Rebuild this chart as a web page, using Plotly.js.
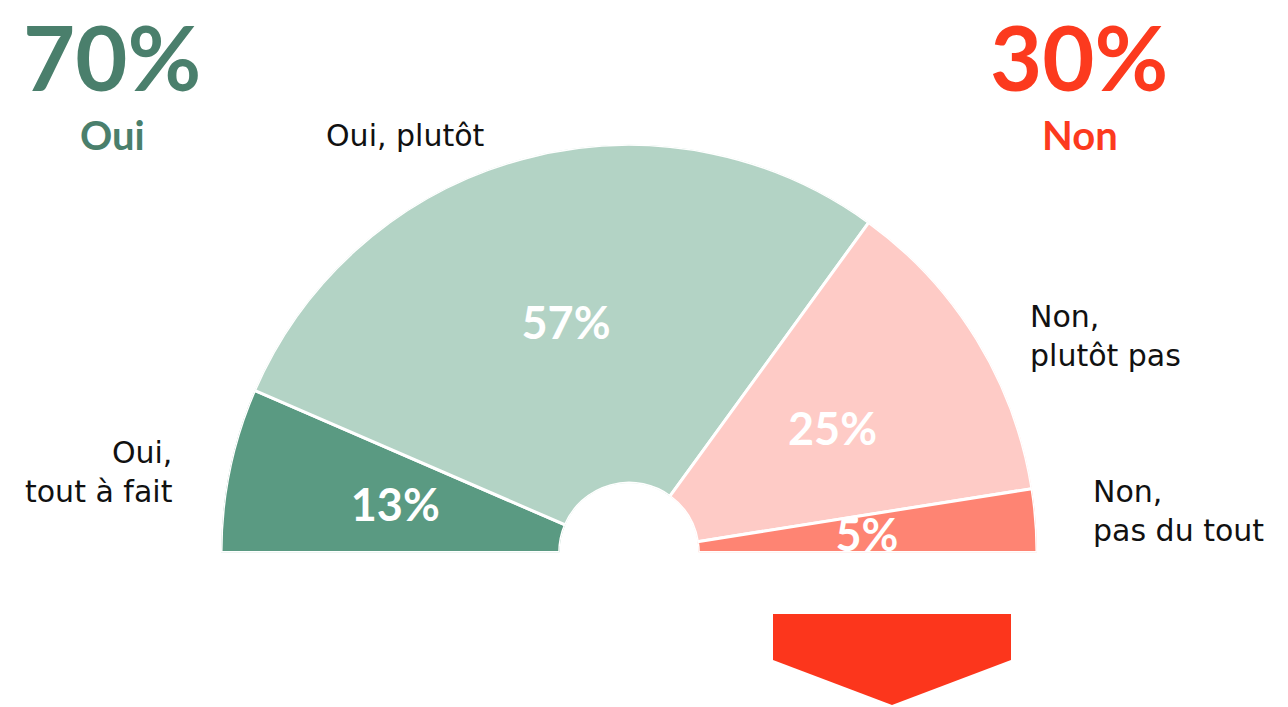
<!DOCTYPE html>
<html>
<head>
<meta charset="utf-8">
<script src="https://cdn.plot.ly/plotly-3.0.1.min.js"></script>
<style>html,body{margin:0;padding:0;background:#fff;}#chart{width:1288px;height:707px;}</style>
</head>
<body>
<div id="chart"></div>
<script>
// ---- data ----
const categories = ['Oui, tout à fait', 'Oui, plutôt', 'Non, plutôt pas', 'Non, pas du tout'];
const values = [13, 57, 25, 5];
const sliceLabels = ['13%', '57%', '25%', '5%'];
const colors = ['#5a9a82', '#b3d3c5', '#fecbc6', '#fe8473'];
const groupValues = ['70%', '30%'];
const groupNames = ['Oui', 'Non'];
const groupColors = ['#4a7f6c', '#fc3a1e'];

// ---- derived angles (half circle = 180 degrees) ----
const total = values.reduce((a, b) => a + b, 0);
let cum = 0;
const mids = [], widths = [];
values.forEach(v => {
  mids.push((cum + v / 2) / total * 180);
  widths.push(v / total * 180);
  cum += v;
});

const W = 1288, H = 707;
const px = x => x / W;
const py = y => 1 - y / H;
const FONT = 'Lato, "Noto Sans", sans-serif';
const LABEL_FONT = '"DejaVu Sans", sans-serif';

const traces = [
  {
    type: 'barpolar',
    subplot: 'polar',
    r: values.map(() => 1),
    theta: mids,
    width: widths,
    text: categories,
    marker: { color: colors, line: { color: '#ffffff', width: 3 } },
    hoverinfo: 'text',
    showlegend: false
  },
  {
    // value labels, on a twin polar frame (same scale) nudged down so glyphs sit centred
    type: 'scatterpolar',
    subplot: 'polar2',
    mode: 'text',
    r: values.map(() => 0.5),
    theta: mids,
    text: sliceLabels,
    textposition: 'middle center',
    textfont: { family: FONT, size: 45, color: '#ffffff', weight: 'bold' },
    cliponaxis: false,
    hoverinfo: 'skip',
    showlegend: false
  }
];

const ann = (text, x, y, opts) => Object.assign({
  text: text, xref: 'paper', yref: 'paper', x: px(x), y: py(y),
  showarrow: false, font: { family: LABEL_FONT, size: 30, color: '#111111' }
}, opts || {});

const polarBase = (top, bottom) => ({
  domain: { x: [px(221), px(1037)], y: [py(bottom), py(top)] },
  sector: [0, 180],
  hole: 0.17,
  bgcolor: 'rgba(0,0,0,0)',
  radialaxis: { visible: false, range: [0, 1] },
  angularaxis: { visible: false, direction: 'clockwise', rotation: 180 }
});

const layout = {
  width: W, height: H,
  margin: { l: 0, r: 0, t: 0, b: 0 },
  paper_bgcolor: '#ffffff',
  showlegend: false,
  polar: polarBase(144.5, 552.5),
  polar2: polarBase(150, 558),
  annotations: [
    ann(groupValues[0], 112, 0.5, { xanchor: 'center', yanchor: 'top', font: { family: FONT, size: 90, color: groupColors[0], weight: 'bold' } }),
    ann(groupNames[0], 112, 109, { xanchor: 'center', yanchor: 'top', font: { family: FONT, size: 40, color: groupColors[0], weight: 'bold' } }),
    ann(groupValues[1], 1079, 0.5, { xanchor: 'center', yanchor: 'top', font: { family: FONT, size: 90, color: groupColors[1], weight: 'bold' } }),
    ann(groupNames[1], 1080, 109, { xanchor: 'center', yanchor: 'top', font: { family: FONT, size: 40, color: groupColors[1], weight: 'bold' } }),
    ann('Oui, plutôt', 405, 135, { xanchor: 'center', yanchor: 'middle' }),
    ann('Oui,<br>tout à fait', 175, 472, { xanchor: 'right', yanchor: 'middle', align: 'right' }),
    ann('Non,<br>plutôt pas', 1028, 336, { xanchor: 'left', yanchor: 'middle', align: 'left' }),
    ann('Non,<br>pas du tout', 1091, 511, { xanchor: 'left', yanchor: 'middle', align: 'left' })
  ],
  shapes: [
    {
      type: 'path', xref: 'paper', yref: 'paper',
      path: 'M ' + px(773) + ',' + py(614) + ' L ' + px(1011) + ',' + py(614) +
            ' L ' + px(1011) + ',' + py(660) + ' L ' + px(892) + ',' + py(705) +
            ' L ' + px(773) + ',' + py(660) + ' Z',
      fillcolor: '#fc361c', line: { width: 0 }
    }
  ]
};

Plotly.newPlot('chart', traces, layout, { displayModeBar: false, staticPlot: true });
</script>
</body>
</html>
